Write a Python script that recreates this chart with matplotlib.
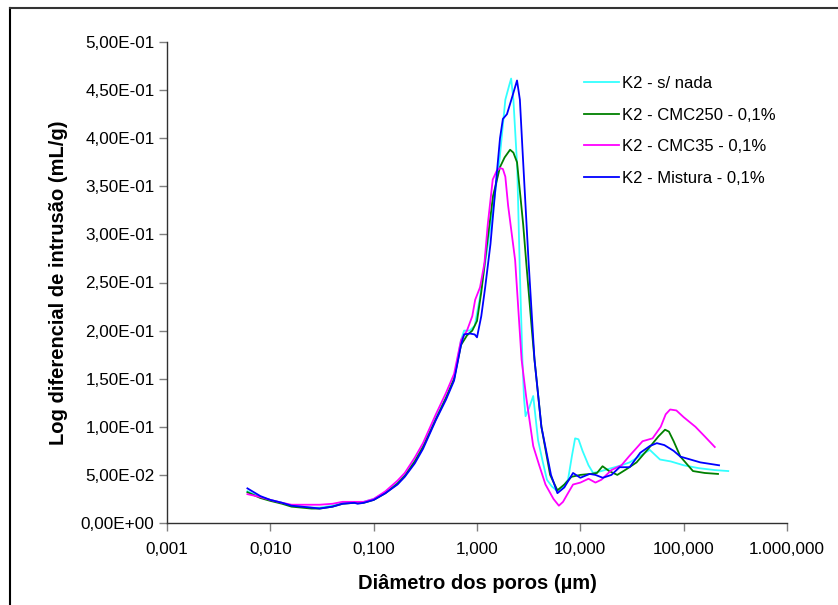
import matplotlib

matplotlib.use("Agg")
import matplotlib.pyplot as plt
from matplotlib.lines import Line2D

plt.rcParams["font.family"] = ["Liberation Sans", "DejaVu Sans"]

# diameter (um) / log differential intrusion (mL/g)
x_nada = [0.006, 0.008, 0.01, 0.013, 0.016, 0.02, 0.025, 0.03, 0.04, 0.05, 0.065, 0.08, 0.1,
          0.13, 0.17, 0.2, 0.25, 0.3, 0.4, 0.5, 0.6, 0.7, 0.75, 0.85, 0.95, 1.05, 1.2, 1.4,
          1.65, 1.88, 2.05, 2.14, 2.25, 2.45, 2.6, 2.75, 2.85, 2.95, 3.2, 3.5, 3.9, 4.3,
          4.75, 5.3, 6.0, 6.8, 7.6, 8.3, 8.9, 9.6, 10.5, 12, 13.3, 16, 20, 25, 30, 38, 47,
          59, 75, 100, 140, 200, 270]
y_nada = [0.033, 0.027, 0.024, 0.021, 0.018, 0.017, 0.016, 0.016, 0.018, 0.021, 0.021, 0.022,
          0.025, 0.032, 0.042, 0.05, 0.065, 0.08, 0.11, 0.13, 0.15, 0.19, 0.20, 0.20, 0.205,
          0.23, 0.27, 0.32, 0.377, 0.44, 0.455, 0.462, 0.44, 0.37, 0.26, 0.17, 0.13, 0.111,
          0.12, 0.132, 0.086, 0.065, 0.045, 0.038, 0.033, 0.038, 0.045, 0.07, 0.088, 0.087,
          0.075, 0.06, 0.052, 0.054, 0.057, 0.06, 0.063, 0.07, 0.076, 0.066, 0.064, 0.06,
          0.057, 0.055, 0.054]

x_cmc250 = [0.006, 0.008, 0.01, 0.013, 0.016, 0.02, 0.025, 0.03, 0.04, 0.05, 0.065, 0.08, 0.1,
            0.13, 0.17, 0.2, 0.25, 0.3, 0.4, 0.5, 0.6, 0.7, 0.8, 0.9, 1.0, 1.1, 1.25, 1.43,
            1.67, 1.85, 2.09, 2.25, 2.44, 2.8, 3.0, 3.4, 3.6, 4.2, 5.1, 6.0, 7.0, 8.2, 10,
            12.5, 14.5, 16.4, 19, 22.8, 28, 35, 47, 57, 66, 72, 80, 93, 123, 160, 215]
y_cmc250 = [0.032, 0.026, 0.023, 0.020, 0.017, 0.016, 0.015, 0.015, 0.017, 0.020, 0.021, 0.021,
            0.024, 0.031, 0.041, 0.049, 0.064, 0.079, 0.108, 0.13, 0.15, 0.185, 0.195, 0.2,
            0.21, 0.24, 0.29, 0.34, 0.37, 0.38, 0.388, 0.385, 0.375, 0.31, 0.27, 0.2, 0.17,
            0.1, 0.05, 0.034, 0.04, 0.048, 0.05, 0.051, 0.052, 0.059, 0.054, 0.05, 0.056, 0.063,
            0.079, 0.09, 0.097, 0.095, 0.085, 0.069, 0.054, 0.052, 0.051]

x_cmc35 = [0.006, 0.008, 0.01, 0.013, 0.016, 0.02, 0.025, 0.03, 0.04, 0.05, 0.065, 0.08, 0.1,
           0.13, 0.17, 0.2, 0.25, 0.3, 0.4, 0.5, 0.6, 0.7, 0.8, 0.9, 0.96, 1.07, 1.18, 1.27,
           1.42, 1.55, 1.67, 1.78, 1.88, 2.0, 2.34, 2.7, 3.0, 3.5, 4.0, 4.6, 5.5, 6.2, 6.8,
           7.5, 8.5, 10, 12, 14, 16, 20, 25, 30, 35, 40, 50, 60, 67, 74, 85, 100, 130, 160, 200]
y_cmc35 = [0.030, 0.027, 0.024, 0.021, 0.019, 0.019, 0.019, 0.019, 0.020, 0.022, 0.022, 0.022,
           0.025, 0.033, 0.044, 0.052, 0.068, 0.083, 0.113, 0.135, 0.155, 0.19, 0.2, 0.215,
           0.232, 0.245, 0.27, 0.31, 0.357, 0.366, 0.369, 0.368, 0.36, 0.33, 0.273, 0.17, 0.13,
           0.08, 0.06, 0.04, 0.025, 0.018, 0.022, 0.03, 0.04, 0.042, 0.046, 0.042, 0.045,
           0.055, 0.06, 0.07, 0.078, 0.085, 0.088, 0.1, 0.113, 0.118, 0.117, 0.11, 0.1, 0.09,
           0.079]

x_mistura = [0.006, 0.008, 0.01, 0.013, 0.016, 0.02, 0.025, 0.03, 0.04, 0.05, 0.065, 0.07, 0.08,
             0.1, 0.13, 0.17, 0.2, 0.25, 0.3, 0.4, 0.5, 0.6, 0.7, 0.75, 0.85, 0.95, 1.0, 1.1,
             1.2, 1.35, 1.5, 1.67, 1.78, 1.95, 2.15, 2.44, 2.6, 2.75, 3.15, 3.6, 4.2, 5.2, 6.0,
             7.0, 8.5, 10, 12.3, 14, 16.5, 20, 24, 30, 38, 47, 55, 65, 80, 93, 145, 220]
y_mistura = [0.036, 0.028, 0.024, 0.021, 0.018, 0.017, 0.016, 0.015, 0.017, 0.020, 0.021, 0.020,
             0.021, 0.024, 0.031, 0.040, 0.048, 0.062, 0.077, 0.107, 0.128, 0.148, 0.185,
             0.196, 0.197, 0.196, 0.193, 0.215, 0.245, 0.29, 0.345, 0.40, 0.42, 0.425, 0.44,
             0.46, 0.44, 0.39, 0.273, 0.17, 0.10, 0.05, 0.031, 0.037, 0.052, 0.047, 0.051,
             0.05, 0.047, 0.05, 0.058, 0.058, 0.073, 0.08, 0.083, 0.081, 0.075, 0.069, 0.063,
             0.06]

series = [
    ("K2 - s/ nada", x_nada, y_nada, "#33ffff"),
    ("K2 - CMC250 - 0,1%", x_cmc250, y_cmc250, "#008000"),
    ("K2 - CMC35 - 0,1%", x_cmc35, y_cmc35, "#ff00ff"),
    ("K2 - Mistura - 0,1%", x_mistura, y_mistura, "#0000ff"),
]

x_ticks = [0.001, 0.01, 0.1, 1, 10, 100, 1000]
x_tick_labels = ["0,001", "0,010", "0,100", "1,000", "10,000", "100,000", "1.000,000"]
y_ticks = [0.0, 0.05, 0.1, 0.15, 0.2, 0.25, 0.3, 0.35, 0.4, 0.45, 0.5]
y_tick_labels = ["0,00E+00", "5,00E-02", "1,00E-01", "1,50E-01", "2,00E-01", "2,50E-01",
                 "3,00E-01", "3,50E-01", "4,00E-01", "4,50E-01", "5,00E-01"]

fig = plt.figure(figsize=(8.38, 6.05), dpi=100)
fig.patch.set_facecolor("white")
ax = fig.add_axes([167 / 838, 1 - 523 / 605, 620 / 838, 481 / 605])

for label, xs, ys, color in series:
    ax.plot(xs, ys, color=color, linewidth=1.3, label=label)

ax.set_xscale("log")
ax.set_xlim(0.001, 1000)
ax.set_ylim(0, 0.5)
ax.set_xticks(x_ticks)
ax.set_xticklabels(x_tick_labels)
ax.minorticks_off()
ax.set_yticks(y_ticks)
ax.set_yticklabels(y_tick_labels)
ax.tick_params(axis="both", direction="out", length=6, width=1, color="#808080",
               labelsize=12.3, pad=3)
ax.tick_params(axis="x", pad=8)

for side in ("top", "right"):
    ax.spines[side].set_visible(False)
for side in ("left", "bottom"):
    ax.spines[side].set_color("#303030")
    ax.spines[side].set_linewidth(1)

ax.set_xlabel("Diâmetro dos poros (µm)", fontsize=14.5, fontweight="bold", labelpad=12)
ax.set_ylabel("Log diferencial de intrusão (mL/g)", fontsize=14.5, fontweight="bold",
              labelpad=9)

handles = [Line2D([0], [0], color=c, lw=1.3) for _, _, _, c in series]
fig.legend(handles, [s[0] for s in series], loc="upper left",
           bbox_to_anchor=(584 / 838, 1 - 76 / 605), frameon=False, fontsize=12,
           handlelength=2.1, handletextpad=0.2, labelspacing=1.0, borderaxespad=0,
           borderpad=0)

# outer chart frame (only top and left edges fall inside the picture)
fig.add_artist(Line2D([10 / 838, 10 / 838], [0, 1 - 8 / 605], color="black", lw=1.5,
                      transform=fig.transFigure))
fig.add_artist(Line2D([10 / 838, 1], [1 - 8 / 605, 1 - 8 / 605], color="#333333", lw=1.5,
                      transform=fig.transFigure))

fig.savefig("out.png", dpi=100)
